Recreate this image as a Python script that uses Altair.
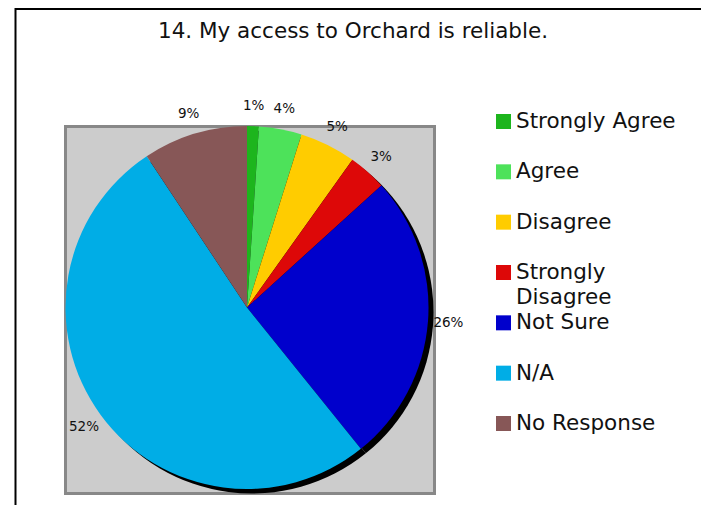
import altair as alt
import pandas as pd

# ---- data ----
categories = ["Strongly Agree", "Agree", "Disagree", "Strongly Disagree",
              "Not Sure", "N/A", "No Response"]
values = [1.05, 3.8, 5.0, 3.4, 25.9, 51.4, 9.3]
pct_labels = ["1%", "4%", "5%", "3%", "26%", "52%", "9%"]
legend_labels = ["Strongly Agree", "Agree", "Disagree", "Strongly\nDisagree",
                 "Not Sure", "N/A", "No Response"]
colors = ["#1DB51D", "#4DE25A", "#FFCC00", "#DD0808", "#0000CC", "#00ADE6", "#875757"]
title_text = "14. My access to Orchard is reliable."

df = pd.DataFrame({
    "category": categories,
    "value": values,
    "label": pct_labels,
    "legend": legend_labels,
    "order": list(range(len(categories))),
})
one = pd.DataFrame({"k": [0]})

W, H = 693, 497
CX, CY, R = 239, 299.5, 181.5
FONT = "DejaVu Sans"

color = alt.Color("category:N", scale=alt.Scale(domain=categories, range=colors), legend=None)
theta = alt.Theta("value:Q", stack=True)
order = alt.Order("order:Q")
ly = alt.Y("category:N", sort=categories,
           scale=alt.Scale(type="point", range=[113.5, 415.5], padding=0), axis=None)

frame_left = alt.Chart(one).mark_rule(color="black", strokeWidth=2).encode(
    x=alt.value(7.5), y=alt.value(0), y2=alt.value(H))
frame_top = alt.Chart(one).mark_rule(color="black", strokeWidth=2).encode(
    x=alt.value(7.5), x2=alt.value(W), y=alt.value(1))

box = alt.Chart(one).mark_rect(fill="#CCCCCC", stroke="#888888", strokeWidth=3).encode(
    x=alt.value(57.5), x2=alt.value(426.5), y=alt.value(118.5), y2=alt.value(485.5))

shadow = alt.Chart(df).mark_arc(radius=R, color="black").encode(
    theta=theta, order=order, x=alt.value(CX + 5), y=alt.value(CY + 4.5))

pie = alt.Chart(df).mark_arc(radius=R).encode(
    theta=theta, order=order, color=color, x=alt.value(CX), y=alt.value(CY))

pct = alt.Chart(df).mark_text(radius=202, fontSize=13.5, font=FONT, color="#111111").encode(
    theta=theta, order=order, text="label:N", x=alt.value(CX), y=alt.value(CY))

leg_sq = alt.Chart(df).mark_square(size=225, opacity=1, strokeWidth=0).encode(
    x=alt.value(495.5), y=ly, color=color)

leg_txt = alt.Chart(df).mark_text(align="left", baseline="top", dy=-10.5, fontSize=21.5,
                                  font=FONT, lineBreak="\n", lineHeight=25,
                                  color="#111111").encode(
    x=alt.value(508), y=ly, text="legend:N")

title = alt.Chart(one).mark_text(text=title_text, fontSize=21.5, font=FONT, align="center",
                                 baseline="alphabetic", color="#111111").encode(
    x=alt.value(345), y=alt.value(29.5))

chart = alt.layer(frame_left, frame_top, box, shadow, pie, pct, leg_sq, leg_txt, title).properties(
    width=W, height=H, padding=0, autosize=alt.AutoSizeParams(type="none"),
    background="white",
).configure_view(stroke=None)

chart.save("out.html", embed_options={"renderer": "svg", "actions": False})
